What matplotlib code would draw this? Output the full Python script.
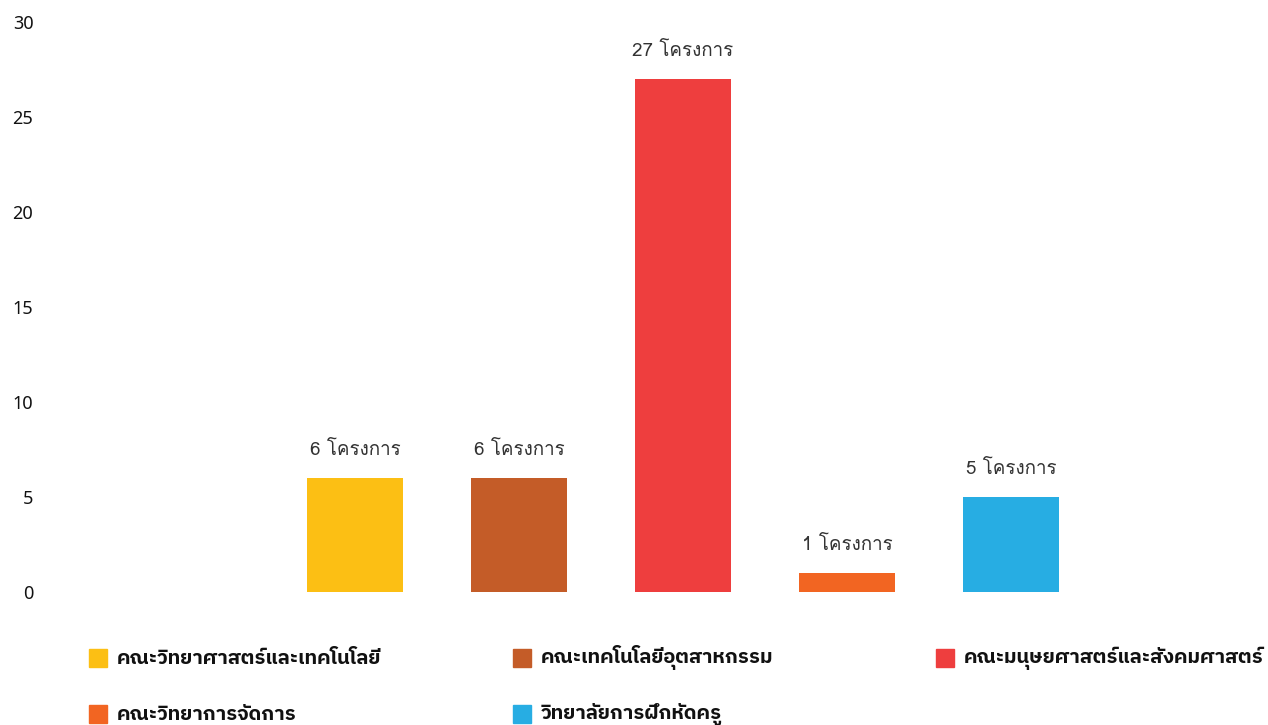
import matplotlib
matplotlib.use("Agg")
import matplotlib.pyplot as plt
from matplotlib.patches import Rectangle

faculties = ["คณะวิทยาศาสตร์และเทคโนโลยี", "คณะเทคโนโลยีอุตสาหกรรม",
             "คณะมนุษยศาสตร์และสังคมศาสตร์", "คณะวิทยาการจัดการ", "วิทยาลัยการฝึกหัดครู"]
projects = [6, 6, 27, 1, 5]
colors = ["#FCBF14", "#C45C28", "#EE3E3E", "#F26522", "#27ADE3"]
y_ticks = [0, 5, 10, 15, 20, 25, 30]

W, H = 1268, 725
fig = plt.figure(figsize=(W / 100, H / 100), dpi=100)
# axes: left 50px, bottom at y=592, top at y=22
ax = fig.add_axes([50 / W, (H - 592) / H, 1 - 50 / W, 570 / H])

x = list(range(len(faculties)))
ax.bar(x, projects, width=0.59, color=colors)
for xi, v in zip(x, projects):
    ax.annotate(f"{v} โครงการ", (xi, v), xytext=(0, 20), textcoords="offset points",
                ha="center", va="center", fontsize=13.5, color="#333333",
                family=["Loma", "DejaVu Sans"])

ax.set_xlim((50 - 355) / 164, (W - 355) / 164)
ax.set_ylim(0, 30)
ax.set_yticks(y_ticks)
ax.set_xticks([])
for t in ax.get_yticklabels():
    t.set_family(["Noto Sans Thai", "DejaVu Sans"])
    t.set_fontsize(13)
    t.set_color("#111111")
ax.tick_params(axis="y", length=0, pad=12)
for s in ax.spines.values():
    s.set_visible(False)

# legend, row by row
for i, (name, c) in enumerate(zip(faculties, colors)):
    row, col = divmod(i, 3)
    px = 89 + col * 423.5
    py = 658 + row * 56
    fig.add_artist(Rectangle((px / W, (H - py - 9) / H), 18 / W, 18 / H,
                             transform=fig.transFigure, color=c))
    fig.text((px + 28) / W, (H - py) / H, name, ha="left", va="center",
             fontsize=14.5, fontweight="bold", color="#111111",
             family=["IBM Plex Sans Thai", "DejaVu Sans"])

fig.savefig("out.png", dpi=100)
